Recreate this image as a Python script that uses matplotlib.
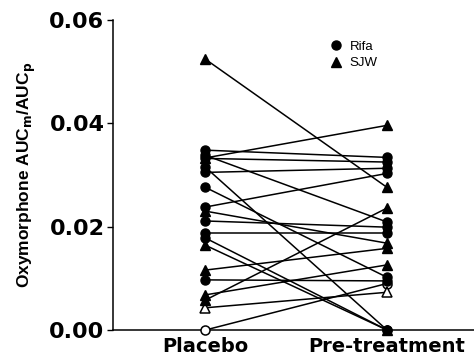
import matplotlib
matplotlib.use('Agg')
import matplotlib.pyplot as plt
from matplotlib.lines import Line2D

# Rifa subjects (circles): placebo -> pre-treatment
rifa_placebo = [0.0348, 0.0338, 0.0332, 0.0315, 0.0305, 0.0276, 0.0238, 0.0211, 0.0187, 0.0178, 0.0097]
rifa_pre = [0.0334, 0.0209, 0.0325, 0.0, 0.0313, 0.0102, 0.0303, 0.0199, 0.0187, 0.0, 0.0095]
rifa_open_placebo = [0.0]
rifa_open_pre = [0.0090]

# SJW subjects (triangles): placebo -> pre-treatment
sjw_placebo = [0.0524, 0.0333, 0.0230, 0.0164, 0.0116, 0.0068, 0.0058]
sjw_pre = [0.0276, 0.0396, 0.0168, 0.0, 0.0158, 0.0126, 0.0236]
sjw_open_placebo = [0.0043]
sjw_open_pre = [0.0073]

categories = ['Placebo', 'Pre-treatment']
yticks = [0.00, 0.02, 0.04, 0.06]

fig = plt.figure(figsize=(4.74, 3.56), dpi=100)
ax = fig.add_axes([0.238, 0.073, 0.77, 0.871])

ms = 6.5
# lines
for a, b in zip(rifa_placebo + rifa_open_placebo + sjw_placebo + sjw_open_placebo,
                rifa_pre + rifa_open_pre + sjw_pre + sjw_open_pre):
    ax.plot([0, 1], [a, b], color='black', lw=1.1, zorder=2, clip_on=False)

# open markers (drawn under filled ones)
ax.plot([0] * len(rifa_open_placebo), rifa_open_placebo, 'o', ms=ms, mfc='white', mec='black', mew=1.1, zorder=3, clip_on=False)
ax.plot([1] * len(rifa_open_pre), rifa_open_pre, 'o', ms=ms, mfc='white', mec='black', mew=1.1, zorder=3, clip_on=False)
ax.plot([0] * len(sjw_open_placebo), sjw_open_placebo, '^', ms=ms, mfc='white', mec='black', mew=1.1, zorder=3, clip_on=False)
ax.plot([1] * len(sjw_open_pre), sjw_open_pre, '^', ms=ms, mfc='white', mec='black', mew=1.1, zorder=4, clip_on=False)

# filled markers
ax.plot([0] * len(rifa_placebo), rifa_placebo, 'o', ms=ms, color='black', zorder=4, clip_on=False)
ax.plot([1] * len(rifa_pre), rifa_pre, 'o', ms=ms, color='black', zorder=4, clip_on=False)
ax.plot([0] * len(sjw_placebo), sjw_placebo, '^', ms=ms, color='black', zorder=4, clip_on=False)
ax.plot([1] * len(sjw_pre), sjw_pre, '^', ms=ms, color='black', zorder=4, clip_on=False)

ax.set_xlim(-0.51, 1.5)
ax.set_ylim(0, 0.06)
ax.set_xticks([0, 1])
ax.set_xticklabels(categories, fontsize=14, fontweight='bold')
ax.set_yticks(yticks)
ax.set_yticklabels(['%.2f' % v for v in yticks], fontsize=16, fontweight='bold')
ax.tick_params(axis='x', length=0, pad=5)
ax.tick_params(axis='y', length=4, width=1, pad=2)
ax.spines['top'].set_visible(False)
ax.spines['right'].set_visible(False)
ax.spines['left'].set_linewidth(1.1)
ax.spines['bottom'].set_linewidth(1.1)

ax.set_ylabel('Oxymorphone AUC$_\\mathbf{m}$/AUC$_\\mathbf{p}$', fontsize=12.5, fontweight='bold',
              family='Liberation Sans', labelpad=8)

handles = [Line2D([], [], marker='o', ls='', color='black', ms=6.5),
           Line2D([], [], marker='^', ls='', color='black', ms=6.5)]
ax.legend(handles, ['Rifa', 'SJW'], loc='upper left', bbox_to_anchor=(0.57, 0.95), frameon=False,
          prop={'family': 'Liberation Sans', 'size': 9.5}, handletextpad=0.3, labelspacing=0.3,
          borderaxespad=0, handlelength=1.5)

fig.savefig('out.png', dpi=100)
